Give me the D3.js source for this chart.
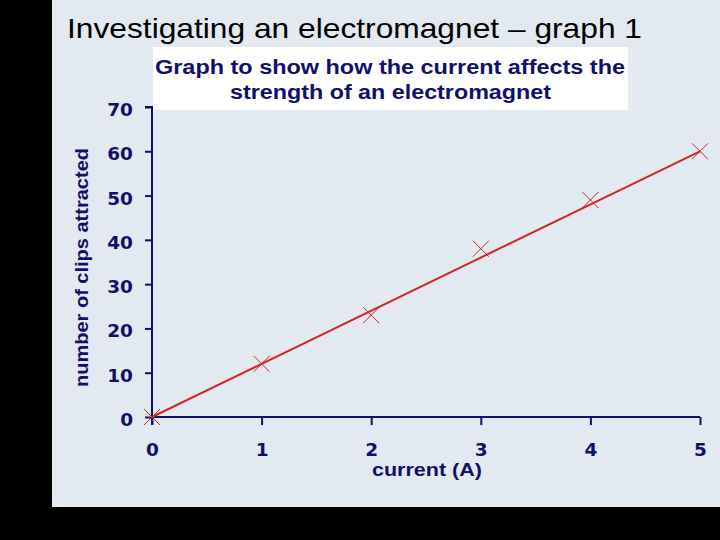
<!DOCTYPE html>
<html><head><meta charset="utf-8">
<script src="https://cdn.jsdelivr.net/npm/d3@7"></script>
<style>html,body{margin:0;padding:0;background:#000;}svg{display:block;}</style>
</head><body>
<script>
const currents = [0, 1, 2, 3, 4, 5];
const clips = [0, 12, 23, 38, 49, 60];
const fitLine = [[0, 0], [5, 60]];
const xTicks = [0, 1, 2, 3, 4, 5];
const yTicks = [0, 10, 20, 30, 40, 50, 60, 70];
const pageTitle = "Investigating an electromagnet \u2013 graph 1";
const chartTitle = ["Graph to show how the current affects the", "strength of an electromagnet"];
const xLabel = "current (A)";
const yLabel = "number of clips attracted";

const W = 720, H = 540;
const navy = "#10106a", red = "#d02626";
const svg = d3.select("body").append("svg").attr("width", W).attr("height", H);
svg.append("rect").attr("width", W).attr("height", H).attr("fill", "#000");
svg.append("rect").attr("x", 52).attr("y", 0).attr("width", W - 52).attr("height", 507).attr("fill", "#e2e9f0");

svg.append("text").attr("x", 67).attr("y", 38).attr("font-family", "Liberation Sans, Arial, sans-serif")
  .attr("font-size", 28.5).attr("fill", "#000")
  .attr("textLength", 575).attr("lengthAdjust", "spacingAndGlyphs").text(pageTitle);

const x = d3.scaleLinear().domain([0, 5]).range([152, 700]);
const y = d3.scaleLinear().domain([0, 70]).range([417, 107]);

const fontAx = "DejaVu Sans, Verdana, sans-serif";
const fontLab = "Liberation Sans, Arial, sans-serif";
const gy = svg.append("g").attr("transform", `translate(${x(0)},0)`)
  .call(d3.axisLeft(y).tickValues(yTicks).tickSize(7).tickPadding(12).tickFormat(d3.format("d")));
const gx = svg.append("g").attr("transform", `translate(0,${y(0)})`)
  .call(d3.axisBottom(x).tickValues(xTicks).tickSize(8).tickPadding(18).tickFormat(d3.format("d")));
[gx, gy].forEach(g => {
  g.select(".domain").attr("stroke", navy).attr("stroke-width", 2);
  g.selectAll(".tick line").attr("stroke", navy).attr("stroke-width", 2);
  g.selectAll(".tick text").attr("fill", navy).attr("font-family", fontAx)
    .attr("font-weight", "bold").attr("font-size", 18.5);
});
gy.selectAll(".tick text").attr("dy", "0.46em");
gy.select(".domain").attr("d", `M-7,${y(70)}H0V${y(0) + 8}`);
gx.select(".domain").attr("d", `M${x(0)},0H${x(5)}`);

// title box
svg.append("rect").attr("x", 153).attr("y", 47).attr("width", 475).attr("height", 63).attr("fill", "#fff");
const tl = [[155, 74, 470], [230, 99, 321]];
svg.append("g").selectAll("text").data(chartTitle).join("text")
  .attr("x", (d, i) => tl[i][0]).attr("y", (d, i) => tl[i][1])
  .attr("textLength", (d, i) => tl[i][2]).attr("lengthAdjust", "spacingAndGlyphs")
  .attr("font-family", fontLab).attr("font-weight", "bold").attr("font-size", 20).attr("fill", navy)
  .text(d => d);

// axis labels
svg.append("text").attr("x", 372).attr("y", 476).attr("font-family", fontLab)
  .attr("textLength", 110).attr("lengthAdjust", "spacingAndGlyphs")
  .attr("font-weight", "bold").attr("font-size", 18).attr("fill", navy).text(xLabel);
svg.append("text").attr("transform", `translate(88,387) rotate(-90)`)
  .attr("textLength", 239).attr("lengthAdjust", "spacingAndGlyphs")
  .attr("font-family", fontLab).attr("font-weight", "bold").attr("font-size", 19).attr("fill", navy).text(yLabel);

// fit line
svg.append("path").datum(fitLine).attr("fill", "none").attr("stroke", red).attr("stroke-width", 2)
  .attr("d", d3.line().x(d => x(d[0])).y(d => y(d[1])));

// markers
const pts = currents.map((c, i) => [c, clips[i]]);
const s = 8;
svg.append("g").selectAll("path").data(pts).join("path")
  .attr("fill", "none").attr("stroke", red).attr("stroke-width", 1)
  .attr("d", d => { const cx = x(d[0]), cy = y(d[1]);
    return `M${cx - s},${cy - s}L${cx + s},${cy + s}M${cx - s},${cy + s}L${cx + s},${cy - s}`; });
</script>
</body></html>
